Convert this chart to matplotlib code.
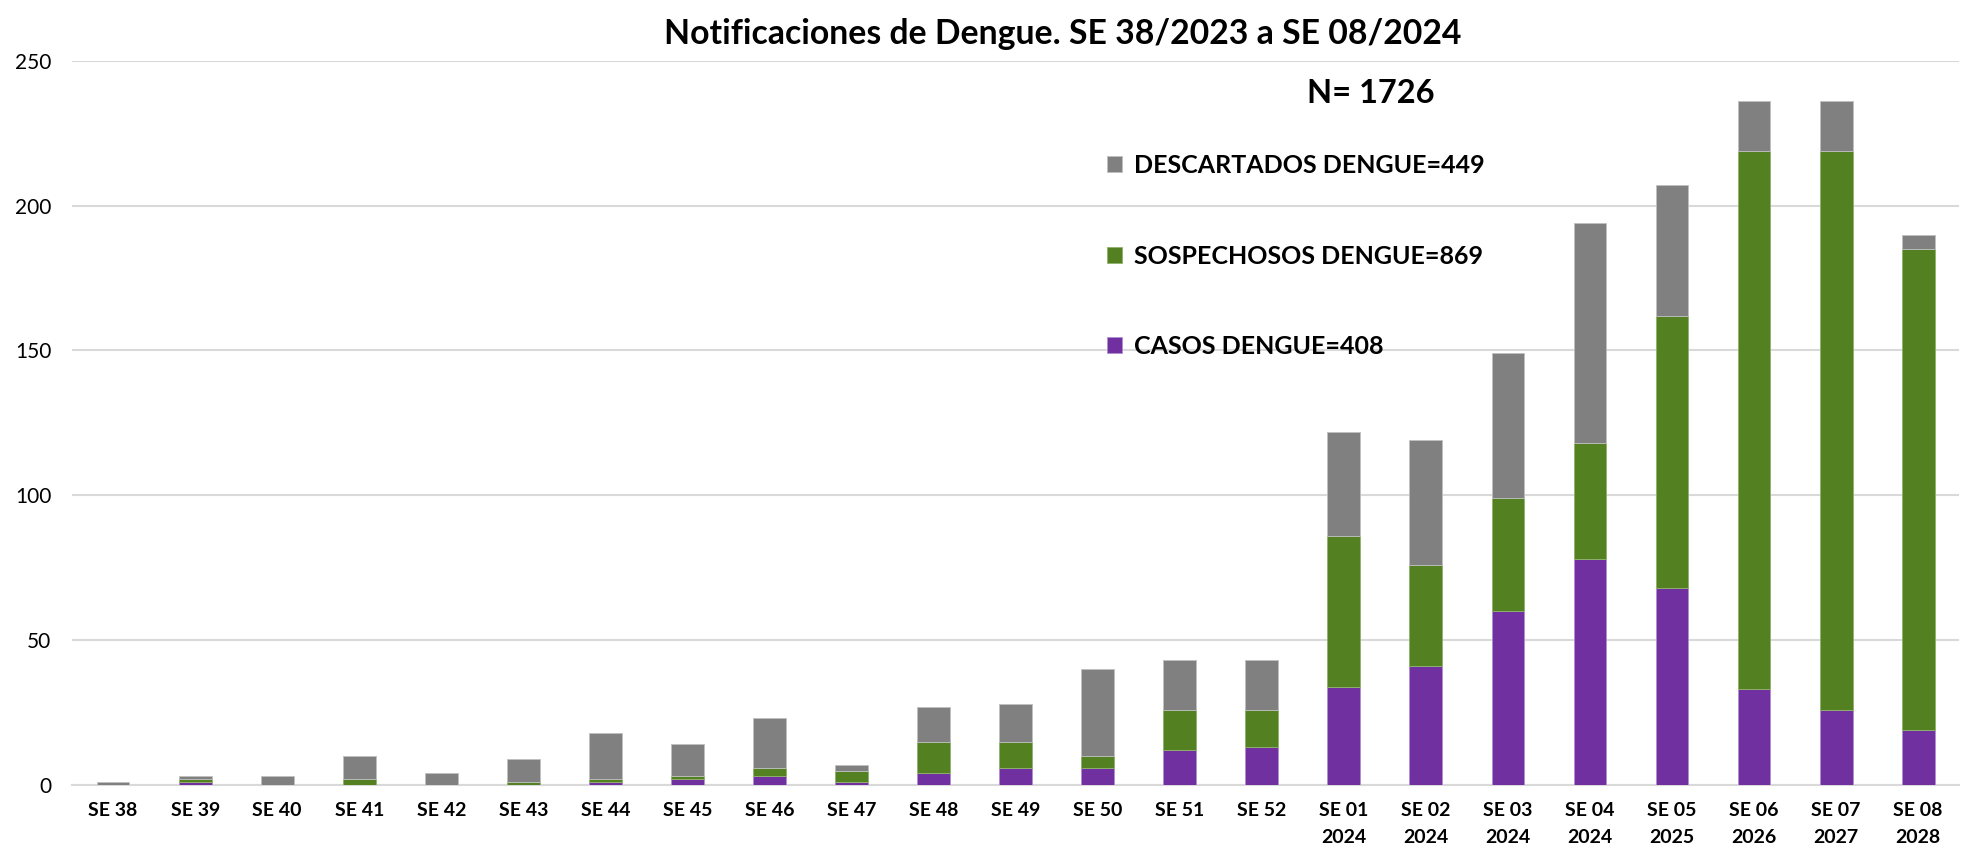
import matplotlib
matplotlib.use('Agg')
import matplotlib.pyplot as plt
import numpy as np

semanas = ['SE 38', 'SE 39', 'SE 40', 'SE 41', 'SE 42', 'SE 43', 'SE 44', 'SE 45',
           'SE 46', 'SE 47', 'SE 48', 'SE 49', 'SE 50', 'SE 51', 'SE 52',
           'SE 01\n2024', 'SE 02\n2024', 'SE 03\n2024', 'SE 04\n2024', 'SE 05\n2025',
           'SE 06\n2026', 'SE 07\n2027', 'SE 08\n2028']
casos = [0, 1, 0, 0, 0, 0, 1, 2, 3, 1, 4, 6, 6, 12, 13, 34, 41, 60, 78, 68, 33, 26, 19]
sospechosos = [0, 1, 0, 2, 0, 1, 1, 1, 3, 4, 11, 9, 4, 14, 13, 52, 35, 39, 40, 94, 186, 193, 166]
descartados = [1, 1, 3, 8, 4, 8, 16, 11, 17, 2, 12, 13, 30, 17, 17, 36, 43, 50, 76, 45, 17, 17, 5]

plt.rcParams['font.family'] = ['Lato', 'DejaVu Sans']

fig = plt.figure(figsize=(19.85, 8.47), dpi=100)
ax = fig.add_axes([0.0363, 0.0732, 0.9507, 0.855])

x = np.arange(len(semanas))
w = 0.4
c = np.array(casos)
s = np.array(sospechosos)
d = np.array(descartados)
b1 = ax.bar(x, c, w, color='#7030A0', edgecolor='#b08fd0', linewidth=0.6, zorder=3,
            label='CASOS DENGUE=408')
b2 = ax.bar(x, s, w, bottom=c, color='#538122', edgecolor='#8fb36a', linewidth=0.6, zorder=3,
            label='SOSPECHOSOS DENGUE=869')
b3 = ax.bar(x, d, w, bottom=c + s, color='#808080', edgecolor='#c0c0c0', linewidth=0.6, zorder=3,
            label='DESCARTADOS DENGUE=449')

ax.set_xlim(-0.5, len(semanas) - 0.5)
ax.set_ylim(0, 250)
ax.set_yticks(range(0, 251, 50))
ax.yaxis.grid(True, color='#d9d9d9', linewidth=1.5, zorder=0)
ax.set_axisbelow(True)
for sp in ['top', 'right', 'left']:
    ax.spines[sp].set_visible(False)
ax.spines['bottom'].set_color('#d9d9d9')
ax.spines['bottom'].set_linewidth(1.5)
ax.tick_params(axis='both', length=0)
ax.tick_params(axis='y', pad=15, labelsize=15)
ax.tick_params(axis='x', pad=12)
ax.set_xticks(x)
ax.set_xticklabels(semanas, fontweight='bold', fontsize=14, linespacing=1.72)

ax.set_title('Notificaciones de Dengue. SE 38/2023 a SE 08/2024', fontsize=24.3,
             fontweight='bold', pad=12, x=0.525)
ax.text(0.688, 0.955, 'N= 1726', transform=ax.transAxes, fontsize=23.5,
        fontweight='bold', ha='center', va='center')

ax.legend(handles=[b3, b2, b1], loc='upper left', bbox_to_anchor=(0.543, 0.885),
          frameon=False, prop={'weight': 'bold', 'size': 18}, labelspacing=2.7,
          handlelength=0.6, handleheight=0.6, handletextpad=0.5, borderaxespad=0)

plt.savefig('out.png', dpi=100)
